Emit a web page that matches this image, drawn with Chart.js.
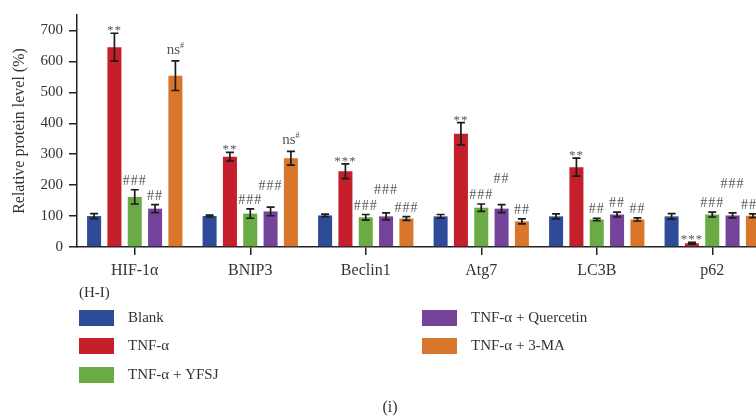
<!DOCTYPE html>
<html>
<head>
<meta charset="utf-8">
<script src="https://cdn.jsdelivr.net/npm/chart.js@4/dist/chart.umd.min.js"></script>
<style>
  html, body { margin: 0; padding: 0; background: #fff; overflow: hidden; }
  #wrap { width: 776px; height: 419px; }
</style>
</head>
<body>
<div id="wrap"><canvas id="c" width="776" height="419"></canvas></div>
<script>
// Protein levels (% of Blank), mean and error per group
const categories = ['HIF-1α', 'BNIP3', 'Beclin1', 'Atg7', 'LC3B', 'p62'];
const yTickValues = [0, 100, 200, 300, 400, 500, 600, 700];

const blank = [100, 100, 102, 99, 99, 99];
const blankErr = [8, 3, 4, 6, 8, 9];
const tnf = [646, 292, 245, 366, 258, 12];
const tnfErr = [45, 14, 24, 36, 29, 3];
const yfsj = [162, 108, 96, 127, 89, 105];
const yfsjErr = [23, 15, 9, 12, 4, 8];
const quercetin = [124, 115, 99, 124, 105, 102];
const quercetinErr = [13, 14, 11, 13, 8, 8];
const ma = [554, 287, 92, 83, 89, 101];
const maErr = [48, 22, 6, 8, 5, 6];

// Significance marks above each bar
const blankMarks = ['', '', '', '', '', ''];
const tnfMarks = ['**', '**', '***', '**', '**', '***'];
const yfsjMarks = ['###', '###', '###', '###', '##', '###'];
const quercetinMarks = ['##', '###', '###', '##', '##', '###'];
const maMarks = ['ns#', 'ns#', '###', '##', '##', '###'];

// Extra raise (px) for the Quercetin marks so they clear neighbours
const quercetinMarkRaise = [0, 12, 14, 17, 0, 20];

const SERIF = "'Liberation Serif', 'Times New Roman', serif";
Chart.defaults.font.family = SERIF;
Chart.defaults.color = '#333';

const series = [
  { label: 'Blank', data: blank, err: blankErr, marks: blankMarks, color: '#2E4B98' },
  { label: 'TNF-α', data: tnf, err: tnfErr, marks: tnfMarks, color: '#C41F2A' },
  { label: 'TNF-α + YFSJ', data: yfsj, err: yfsjErr, marks: yfsjMarks, color: '#6AAB45' },
  { label: 'TNF-α + Quercetin', data: quercetin, err: quercetinErr, marks: quercetinMarks, color: '#75439A' },
  { label: 'TNF-α + 3-MA', data: ma, err: maErr, marks: maMarks, color: '#D8772C' }
];

const errorBarsAndMarks = {
  id: 'errorBarsAndMarks',
  afterDatasetsDraw(chart) {
    const ctx = chart.ctx;
    const yScale = chart.scales.y;
    chart.data.datasets.forEach((ds, di) => {
      const meta = chart.getDatasetMeta(di);
      meta.data.forEach((bar, i) => {
        const v = ds.data[i], e = ds.err[i];
        const x = bar.x;
        const yTop = yScale.getPixelForValue(v + e);
        const yBot = yScale.getPixelForValue(v - e);
        ctx.save();
        ctx.strokeStyle = '#1c1c1c';
        ctx.lineWidth = 1.7;
        ctx.beginPath();
        ctx.moveTo(x, yTop); ctx.lineTo(x, yBot);
        ctx.moveTo(x - 4, yTop); ctx.lineTo(x + 4, yTop);
        ctx.moveTo(x - 4, yBot); ctx.lineTo(x + 4, yBot);
        ctx.stroke();
        ctx.restore();

        const mark = ds.marks[i];
        if (!mark) return;
        const raise = di === 3 ? quercetinMarkRaise[i] : 0;
        ctx.save();
        ctx.fillStyle = '#555';
        ctx.textAlign = 'center';
        ctx.textBaseline = 'alphabetic';
        if (mark.startsWith('ns')) {
          const base = yTop - 7 - raise;
          ctx.font = '15px ' + SERIF;
          const w1 = ctx.measureText('ns').width;
          ctx.font = '8px ' + SERIF;
          const w2 = ctx.measureText('#').width;
          const start = x - (w1 + w2) / 2;
          ctx.textAlign = 'left';
          ctx.font = '15px ' + SERIF;
          ctx.fillText('ns', start, base);
          ctx.font = '8px ' + SERIF;
          ctx.fillText('#', start + w1, base - 6);
        } else if (mark.startsWith('*')) {
          ctx.font = '13px ' + SERIF;
          ctx.letterSpacing = '1px';
          ctx.fillText(mark, x, yTop + 1 - raise);
        } else {
          ctx.font = '14px ' + SERIF;
          ctx.letterSpacing = '1px';
          ctx.fillText(mark, x, yTop - 5 - raise);
        }
        ctx.restore();
      });
    });
  }
};

const sideLegend = {
  id: 'sideLegend',
  afterDraw(chart) {
    const ctx = chart.ctx;
    ctx.save();
    ctx.fillStyle = '#333';
    ctx.textBaseline = 'middle';
    ctx.textAlign = 'left';
    ctx.font = '15px ' + SERIF;
    ctx.fillText('(H-I)', 79, 293);
    const cols = [79, 422];
    const rows = [310, 338, 367];
    const placement = [[0, 0], [0, 1], [0, 2], [1, 0], [1, 1]];
    chart.data.datasets.forEach((ds, di) => {
      const [c, r] = placement[di];
      const bx = cols[c], by = rows[r];
      ctx.fillStyle = ds.backgroundColor;
      ctx.fillRect(bx, by, 35, 16);
      ctx.fillStyle = '#333';
      ctx.font = '15px ' + SERIF;
      ctx.fillText(ds.label, bx + 49, by + 8);
    });
    ctx.textAlign = 'center';
    ctx.font = '16px ' + SERIF;
    ctx.fillText('(i)', 390, 408);
    ctx.restore();
  }
};

new Chart(document.getElementById('c'), {
  type: 'bar',
  data: {
    labels: categories,
    datasets: series.map(s => ({
      label: s.label,
      data: s.data,
      err: s.err,
      marks: s.marks,
      backgroundColor: s.color,
      borderWidth: 0,
      barPercentage: 0.69,
      categoryPercentage: 0.88
    }))
  },
  options: {
    responsive: false,
    animation: false,
    layout: { padding: { left: 0, top: 11.6, right: 6, bottom: 0 } },
    plugins: { legend: { display: false }, tooltip: { enabled: false } },
    scales: {
      x: {
        type: 'category',
        offset: true,
        grid: { display: true, drawOnChartArea: false, drawTicks: true, tickLength: 8, offset: false, color: '#222', lineWidth: 1.5 },
        border: { display: true, color: '#222', width: 1.5 },
        ticks: { font: { size: 16 }, color: '#333', padding: 6, maxRotation: 0 },
        afterFit(scale) { scale.height = 172; }
      },
      y: {
        min: 0,
        max: 750,
        grid: { display: true, drawOnChartArea: false, drawTicks: true, tickLength: 8, color: '#222', lineWidth: 1.5 },
        border: { display: true, color: '#222', width: 1.5 },
        ticks: { stepSize: 100, font: { size: 15 }, color: '#333', padding: 6 },
        afterBuildTicks(scale) {
          scale.ticks = yTickValues.map(v => ({ value: v }));
        },
        title: {
          display: true,
          text: 'Relative protein level (%)',
          font: { size: 16 },
          color: '#333',
          padding: { top: 10, bottom: 0 }
        },
        afterFit(scale) { scale.width = 77; }
      }
    }
  },
  plugins: [errorBarsAndMarks, sideLegend]
});
</script>
</body>
</html>
